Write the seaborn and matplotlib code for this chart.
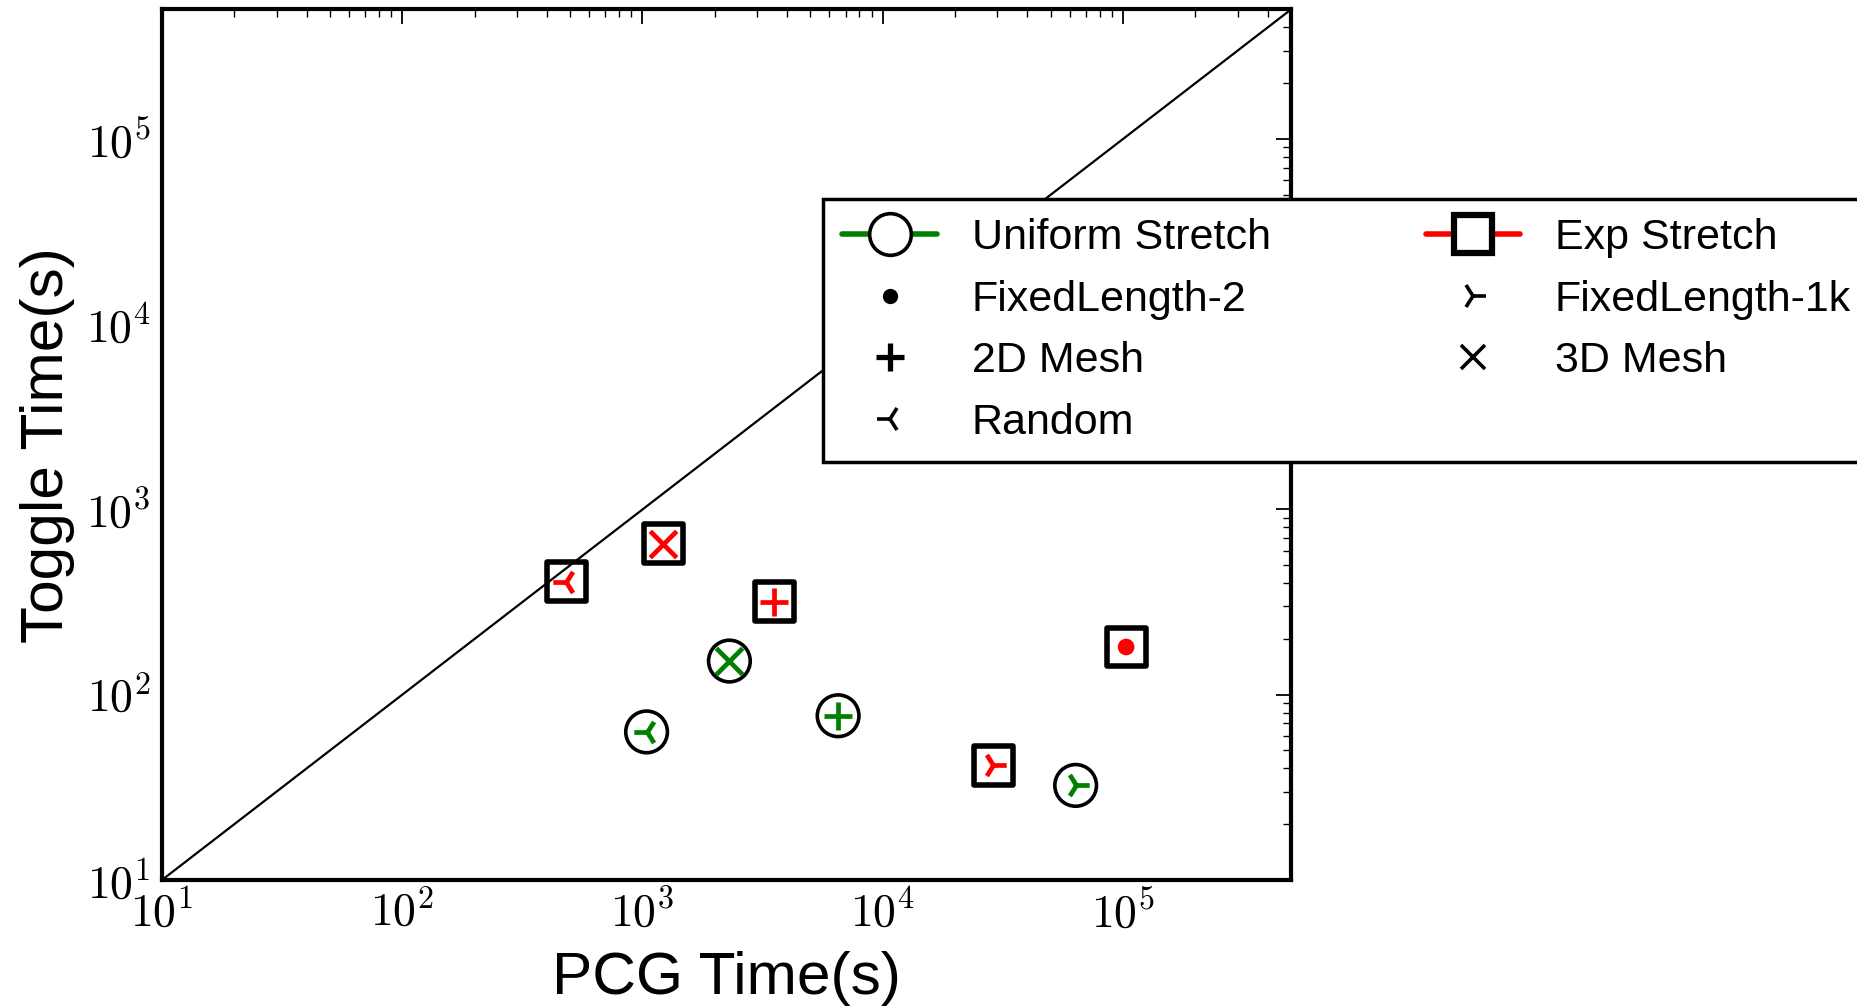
import numpy as np
import pandas as pd
import matplotlib
matplotlib.use("Agg")
import matplotlib.pyplot as plt
import seaborn as sns
from matplotlib.lines import Line2D
from matplotlib.ticker import FuncFormatter, LogLocator

# -------------------------------------------------------------------------
# dati (PCG time vs Toggle time, secondi)
# -------------------------------------------------------------------------
uniform_graph = ["3D Mesh", "Random", "2D Mesh", "FixedLength-1k"]
uniform_pcg = [2300, 1040, 6520, 63500]
uniform_toggle = [152, 63, 77, 32.4]

exp_graph = ["Random", "3D Mesh", "2D Mesh", "FixedLength-2", "FixedLength-1k"]
exp_pcg = [482, 1220, 3540, 103000, 28800]
exp_toggle = [408, 653, 318, 181, 41.7]

graph_types = ["FixedLength-2", "2D Mesh", "Random", "FixedLength-1k", "3D Mesh"]
graph_markers = {"FixedLength-2": "o", "2D Mesh": "+", "Random": "3",
                 "FixedLength-1k": "4", "3D Mesh": "x"}
inner_size = {"FixedLength-2": 12, "2D Mesh": 20, "Random": 19,
              "FixedLength-1k": 19, "3D Mesh": 19}

df_uni = pd.DataFrame({"pcg": uniform_pcg, "toggle": uniform_toggle, "graph": uniform_graph})
df_exp = pd.DataFrame({"pcg": exp_pcg, "toggle": exp_toggle, "graph": exp_graph})

sns.set_style("white")
plt.rcParams["font.family"] = ["Liberation Sans", "DejaVu Sans"]
plt.rcParams["mathtext.fontset"] = "cm"
plt.rcParams["text.color"] = "black"
plt.rcParams["axes.labelcolor"] = "black"
plt.rcParams["xtick.color"] = "black"
plt.rcParams["ytick.color"] = "black"

fig = plt.figure(figsize=(18.57, 10.08), dpi=100)
ax = fig.add_axes([0.0872, 0.127, 0.6080, 0.8636])

lim = (10, 5e5)
ax.plot(lim, lim, color="black", lw=1.6, zorder=1)

# contorni: cerchi (uniform) e quadrati (exp)
sns.scatterplot(data=df_uni, x="pcg", y="toggle", marker="o", s=30 ** 2,
                facecolor="none", edgecolor="black", linewidth=2.6, ax=ax,
                legend=False, zorder=3)
sns.scatterplot(data=df_exp, x="pcg", y="toggle", marker="s", s=28 ** 2,
                facecolor="none", edgecolor="black", linewidth=4.0, ax=ax,
                legend=False, zorder=3)

# simboli interni per tipo di grafo
for g in graph_types:
    for d, col in [(df_uni, "green"), (df_exp, "red")]:
        sub = d[d["graph"] == g]
        if len(sub) == 0:
            continue
        m = graph_markers[g]
        if m == "o":
            sns.scatterplot(data=sub, x="pcg", y="toggle", marker="o",
                            s=inner_size[g] ** 2, color=col, edgecolor="none",
                            ax=ax, legend=False, zorder=4)
        else:
            sns.scatterplot(data=sub, x="pcg", y="toggle", marker=m,
                            s=inner_size[g] ** 2, color=col, linewidth=3.4,
                            ax=ax, legend=False, zorder=4)

ax.set_xscale("log")
ax.set_yscale("log")
ax.set_xlim(lim)
ax.set_ylim(lim)

fmt = FuncFormatter(lambda v, p: r"$10^{%d}$" % round(np.log10(v)))
for axis in (ax.xaxis, ax.yaxis):
    axis.set_major_locator(LogLocator(base=10, numticks=10))
    axis.set_minor_locator(LogLocator(base=10, subs=np.arange(2, 10), numticks=20))
    axis.set_major_formatter(fmt)

ax.tick_params(which="both", direction="in", top=True, right=True, colors="black")
ax.tick_params(which="major", length=11, width=1.3, labelsize=33, pad=8)
ax.tick_params(which="minor", length=6, width=1.0)
for sp in ax.spines.values():
    sp.set_linewidth(3)
    sp.set_color("black")

ax.set_xlabel("PCG Time(s)", fontsize=43.5, labelpad=10)
ax.set_ylabel("Toggle Time(s)", fontsize=43.5, labelpad=8)

# legenda (fuori dall'area a destra, come nell'originale)
handles = [
    Line2D([], [], color="green", lw=4, marker="o", ms=30, mfc="white", mec="black", mew=2.6),
    Line2D([], [], ls="none", marker="o", ms=10, color="black"),
    Line2D([], [], ls="none", marker="+", ms=20, mew=3.8, color="black"),
    Line2D([], [], ls="none", marker="3", ms=19, mew=2.6, color="black"),
    Line2D([], [], color="red", lw=4, marker="s", ms=27, mfc="white", mec="black", mew=4.5),
    Line2D([], [], ls="none", marker="4", ms=19, mew=2.6, color="black"),
    Line2D([], [], ls="none", marker="x", ms=17, mew=2.6, color="black"),
]
labels = ["Uniform Stretch", "FixedLength-2", "2D Mesh", "Random",
          "Exp Stretch", "FixedLength-1k", "3D Mesh"]
leg = fig.legend(handles, labels, loc="upper left",
                 bbox_to_anchor=(823 / 1857, 1 - 199 / 1008), ncol=2,
                 fontsize=31, frameon=True, fancybox=False, framealpha=1,
                 edgecolor="black", handlelength=2.2, handletextpad=0.8,
                 columnspacing=3.6, labelspacing=0.5, borderpad=0.45,
                 borderaxespad=0)
leg.get_frame().set_linewidth(2.5)

fig.savefig("out.png", dpi=100)
